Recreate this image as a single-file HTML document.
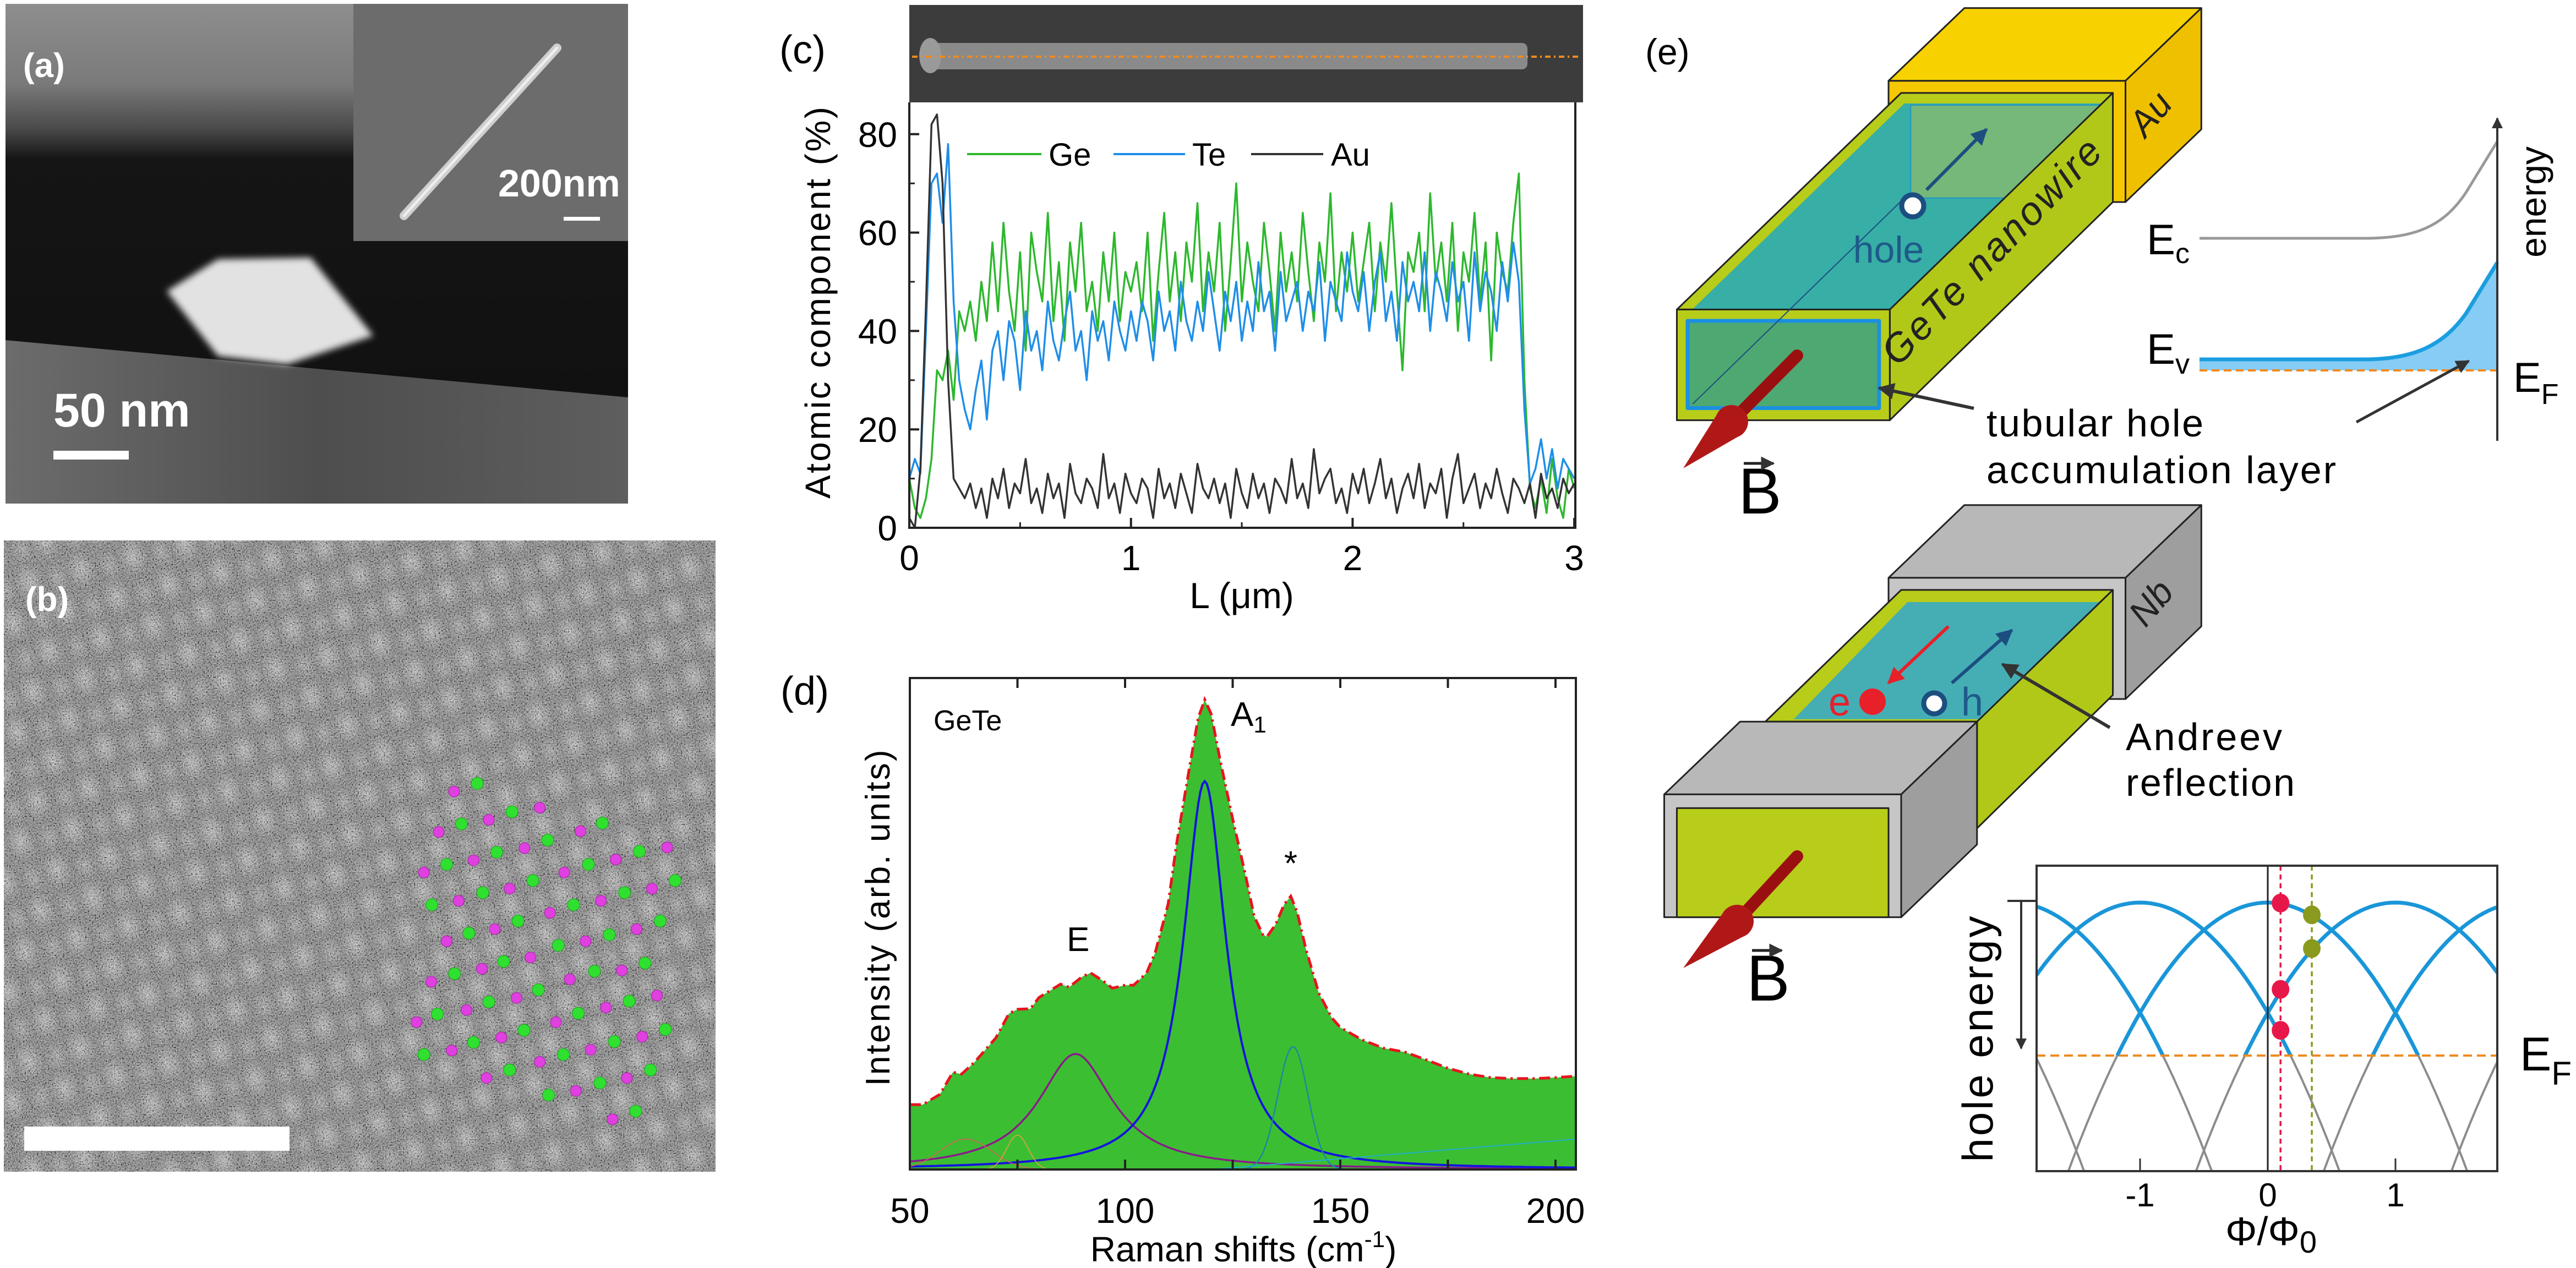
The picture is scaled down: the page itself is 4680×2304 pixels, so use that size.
<!DOCTYPE html>
<html><head><meta charset="utf-8">
<style>body{margin:0;background:#fff}svg{display:block}text{font-family:"Liberation Sans",Arial,sans-serif}</style>
</head><body>
<svg id="fig" xmlns="http://www.w3.org/2000/svg" width="4680" height="2304" viewBox="0 0 4680 2304">
<defs>
  <linearGradient id="aTop" x1="0" y1="7" x2="0" y2="915" gradientUnits="userSpaceOnUse">
    <stop offset="0" stop-color="#8e8e8e"/><stop offset="0.16" stop-color="#7a7a7a"/>
    <stop offset="0.25" stop-color="#4a4a4a"/><stop offset="0.31" stop-color="#151515"/><stop offset="1" stop-color="#0f0f0f"/>
  </linearGradient>
  <linearGradient id="aBot" x1="10" y1="0" x2="1141" y2="0" gradientUnits="userSpaceOnUse">
    <stop offset="0" stop-color="#6c6c6c"/><stop offset="0.5" stop-color="#4e4e4e"/><stop offset="1" stop-color="#5e5e5e"/>
  </linearGradient>
  <radialGradient id="blob"><stop offset="0" stop-color="#b4b4b4"/><stop offset="1" stop-color="#b4b4b4" stop-opacity="0"/></radialGradient>
  <radialGradient id="blob2"><stop offset="0" stop-color="#9a9a9a"/><stop offset="1" stop-color="#9a9a9a" stop-opacity="0"/></radialGradient>
  <pattern id="lat" width="1" height="1" patternUnits="userSpaceOnUse" patternTransform="matrix(65 51 -29 74 0 0)">
    <rect width="1" height="1" fill="#666"/>
    <circle cx="0.5" cy="0.5" r="0.38" fill="url(#blob)"/>
    <circle cx="0.07" cy="0" r="0.3" fill="url(#blob2)"/>
    <circle cx="0.07" cy="1" r="0.3" fill="url(#blob2)"/>
    <circle cx="1.07" cy="0" r="0.3" fill="url(#blob2)"/>
    <circle cx="1.07" cy="1" r="0.3" fill="url(#blob2)"/>
  </pattern>
  <filter id="noise2" x="0" y="0" width="100%" height="100%">
    <feTurbulence type="fractalNoise" baseFrequency="0.4" numOctaves="2" seed="7" result="t"/>
    <feColorMatrix in="t" type="matrix" values="1.2 1.2 1.2 0 -1.3  1.2 1.2 1.2 0 -1.3  1.2 1.2 1.2 0 -1.3  0 0 0 0 0.5"/>
  </filter>
  <filter id="soft" x="-20%" y="-20%" width="140%" height="140%"><feGaussianBlur stdDeviation="6"/></filter>
  <clipPath id="clipC"><rect x="1652" y="186" width="1210" height="773"/></clipPath>
  <clipPath id="clipD"><rect x="1653" y="1232" width="1210" height="893"/></clipPath>
  <clipPath id="clipE"><rect x="3700" y="1573" width="837" height="555"/></clipPath>
  <marker id="ah" viewBox="0 0 10 10" refX="9" refY="5" markerWidth="5" markerHeight="5" orient="auto"><path d="M0,0 L10,5 L0,10 z" fill="#333"/></marker>
  <marker id="ahB" viewBox="0 0 10 10" refX="9" refY="5" markerWidth="5" markerHeight="5" orient="auto"><path d="M0,0 L10,5 L0,10 z" fill="#1c4e80"/></marker>
  <marker id="ahR" viewBox="0 0 10 10" refX="9" refY="5" markerWidth="5" markerHeight="5" orient="auto"><path d="M0,0 L10,5 L0,10 z" fill="#e8202a"/></marker>
</defs>
<rect width="4680" height="2304" fill="#fff"/>

<!-- Panel a -->
<g>
  <rect x="10" y="7" width="1131" height="908" fill="url(#aTop)"/>
  <polygon points="10,618 1141,722 1141,915 10,915" fill="url(#aBot)"/>
  <polygon points="303,529 396,471 564,468 678,610 522,662 396,647" fill="#e2e2e2" filter="url(#soft)"/>
  <rect x="642" y="7" width="499" height="431" fill="#6c6c6c"/>
  <line x1="734" y1="392" x2="1012" y2="87" stroke="#cfcfcf" stroke-width="16" stroke-linecap="round"/>
  <line x1="734" y1="392" x2="1012" y2="87" stroke="#eeeeee" stroke-width="5" stroke-linecap="round"/>
  <text x="42" y="140" font-size="62" font-weight="bold" fill="#fff">(a)</text>
  <text x="905" y="357" font-size="70" font-weight="bold" fill="#fff">200nm</text>
  <rect x="1024" y="394" width="66" height="7" fill="#fff"/>
  <text x="97" y="775" font-size="86" font-weight="bold" fill="#fff">50 nm</text>
  <rect x="97" y="819" width="137" height="16" fill="#fff"/>
</g>

<!-- Panel b -->
<g>
  <rect x="7" y="982" width="1293" height="1147" fill="url(#lat)"/>
  <rect x="7" y="982" width="1293" height="1147" filter="url(#noise2)"/>
  <g id="atomDots"></g>
  <text x="46" y="1110" font-size="62" font-weight="bold" fill="#fff">(b)</text>
  <rect x="44" y="2047" width="482" height="44" fill="#fff"/>
</g>

<!-- Panel c -->
<g>
  <text x="1416" y="115" font-size="72">(c)</text>
  <rect x="1652" y="9" width="1224" height="177" fill="#3c3c3c"/>
  <rect x="1690" y="78" width="1085" height="48" rx="10" fill="#8a8a8a"/>
  <ellipse cx="1690" cy="101" rx="20" ry="32" fill="#9a9a9a"/>
  <line x1="1657" y1="103" x2="2870" y2="103" stroke="#f08a20" stroke-width="4" stroke-dasharray="10,6,3,6"/>
  <g id="chartC"></g>
</g>

<!-- Panel d -->
<g>
  <text x="1418" y="1280" font-size="72">(d)</text>
  <g id="chartD"></g>
  <text x="2259" y="2292" font-size="64" text-anchor="middle">Raman shifts (cm<tspan font-size="42" dy="-26">-1</tspan><tspan dy="26">)</tspan></text>
  <text x="2236" y="1319" font-size="62">A<tspan font-size="42" dy="12">1</tspan></text>
</g>

<!-- Panel e schematic -->
<g>
  <text x="2989" y="117" font-size="66">(e)</text>
  <g transform="translate(2880,0) scale(1.148,1.4684)" stroke="#222" stroke-linejoin="round">
    <polygon points="480,100 600,10 975,10 855,100" fill="#f7d200" vector-effect="non-scaling-stroke" stroke-width="3"/>
    <polygon points="480,100 855,100 855,250 480,250" fill="#f5c800" vector-effect="non-scaling-stroke" stroke-width="3"/>
    <polygon points="855,100 975,10 975,160 855,250" fill="#efc000" vector-effect="non-scaling-stroke" stroke-width="3"/>
    <polygon points="145,383 500,115 835,115 482,383" fill="#b8cc1a" vector-effect="non-scaling-stroke" stroke-width="3"/>
    <polygon points="160,390 505,128 820,128 475,390" fill="#20a8c0" opacity="0.85" stroke="none"/>
    <polygon points="515,130 820,130 820,245 515,245" fill="#8cbc6a" opacity="0.75" stroke="#1a8ad0" vector-effect="non-scaling-stroke" stroke-width="2"/>
    <polygon points="482,383 835,115 835,250 482,520" fill="#b2c818" vector-effect="non-scaling-stroke" stroke-width="3"/>
    <rect x="145" y="383" width="337" height="137" fill="#b8cc1a" vector-effect="non-scaling-stroke" stroke-width="3"/>
    <rect x="162" y="397" width="303" height="108" fill="#4ea872" stroke="#1a90e0" vector-effect="non-scaling-stroke" stroke-width="7"/>
    <line x1="170" y1="500" x2="505" y2="245" stroke="#1c4e80" vector-effect="non-scaling-stroke" stroke-width="2"/>
    <polygon points="480,715 600,625 975,625 855,715" fill="#b8b8b8" vector-effect="non-scaling-stroke" stroke-width="3"/>
    <polygon points="480,715 855,715 855,865 480,865" fill="#c6c6c6" vector-effect="non-scaling-stroke" stroke-width="3"/>
    <polygon points="855,715 975,625 975,775 855,865" fill="#9e9e9e" vector-effect="non-scaling-stroke" stroke-width="3"/>
    <polygon points="285,893 500,730 835,730 620,893" fill="#b8cc1a" vector-effect="non-scaling-stroke" stroke-width="3"/>
    <polygon points="330,890 510,745 820,745 640,890" fill="#30a8d0" opacity="0.85" stroke="none"/>
    <polygon points="620,893 835,730 835,860 620,1025" fill="#b2c818" vector-effect="non-scaling-stroke" stroke-width="3"/>
    <polygon points="125,983 245,893 620,893 500,983" fill="#b8b8b8" vector-effect="non-scaling-stroke" stroke-width="3"/>
    <polygon points="500,983 620,893 620,1045 500,1135" fill="#9e9e9e" vector-effect="non-scaling-stroke" stroke-width="3"/>
    <rect x="125" y="983" width="375" height="152" fill="#c6c6c6" vector-effect="non-scaling-stroke" stroke-width="3"/>
    <rect x="145" y="1000" width="335" height="135" fill="#b8cc1a" vector-effect="non-scaling-stroke" stroke-width="3"/>
  </g>
  <line x1="3146" y1="766" x2="3265" y2="646" stroke="#9a1010" stroke-width="22" stroke-linecap="round"/>
  <polygon points="3058,851 3167,788 3125,744" fill="#b01818"/>
  <circle cx="3146" cy="766" r="30" fill="#b01818"/>
  <text x="3158" y="933" font-size="118">B</text>
  <line x1="3168" y1="842" x2="3222" y2="842" stroke="#222" stroke-width="5" marker-end="url(#ah)"/>
  <line x1="3156" y1="1674" x2="3265" y2="1556" stroke="#9a1010" stroke-width="22" stroke-linecap="round"/>
  <polygon points="3058,1759 3176,1697 3136,1651" fill="#b01818"/>
  <circle cx="3156" cy="1674" r="30" fill="#b01818"/>
  <text x="3173" y="1818" font-size="118">B</text>
  <line x1="3183" y1="1727" x2="3237" y2="1727" stroke="#222" stroke-width="5" marker-end="url(#ah)"/>
  <line x1="3500" y1="345" x2="3609" y2="235" stroke="#1c4e80" stroke-width="6" marker-end="url(#ahB)"/>
  <circle cx="3475" cy="374" r="20" fill="#fff" stroke="#1c4e80" stroke-width="9"/>
  <text x="3431" y="477" font-size="68" text-anchor="middle" fill="#1e5a8a">hole</text>
  <text transform="translate(3448,668) rotate(-46)" font-size="72" font-style="italic" fill="#222" textLength="540">GeTe nanowire</text>
  <text transform="translate(3898,252) rotate(-50)" font-size="66" font-style="italic" fill="#222">Au</text>
  <text transform="translate(3898,1142) rotate(-50)" font-size="66" font-style="italic" fill="#222">Nb</text>
  <line x1="3586" y1="742" x2="3414" y2="705" stroke="#333" stroke-width="6" marker-end="url(#ah)"/>
  <text x="3609" y="793" font-size="70" textLength="394">tubular hole</text>
  <text x="3609" y="878" font-size="70" textLength="635">accumulation layer</text>
  <line x1="3540" y1="1138" x2="3431" y2="1241" stroke="#e8202a" stroke-width="6" marker-end="url(#ahR)"/>
  <line x1="3546" y1="1241" x2="3655" y2="1145" stroke="#1c4e80" stroke-width="6" marker-end="url(#ahB)"/>
  <circle cx="3402" cy="1275" r="24" fill="#e8202a"/>
  <text x="3322" y="1300" font-size="72" fill="#e8202a">e</text>
  <circle cx="3514" cy="1278" r="19" fill="#fff" stroke="#1c4e80" stroke-width="9"/>
  <text x="3563" y="1300" font-size="72" fill="#1e5a8a">h</text>
  <line x1="3833" y1="1322" x2="3638" y2="1207" stroke="#333" stroke-width="6" marker-end="url(#ah)"/>
  <text x="3862" y="1363" font-size="70" textLength="284">Andreev</text>
  <text x="3862" y="1446" font-size="70" textLength="307">reflection</text>
  <g>
    <path d="M3996,653 L4296,653 C4390,653 4440,625 4480,570 L4537,477 L4537,673 L3996,673 Z" fill="#86ccf4"/>
    <path d="M3996,653 L4296,653 C4390,653 4440,625 4480,570 L4537,477" fill="none" stroke="#1a9ee0" stroke-width="7"/>
    <path d="M3996,433 L4296,433 C4390,433 4440,410 4480,350 L4537,257" fill="none" stroke="#999" stroke-width="5"/>
    <line x1="3996" y1="673" x2="4537" y2="673" stroke="#f08a20" stroke-width="4" stroke-dasharray="14,8"/>
    <line x1="4537" y1="801" x2="4537" y2="215" stroke="#333" stroke-width="4" marker-end="url(#ah)"/>
    <text transform="translate(4625,367) rotate(-90)" font-size="66" text-anchor="middle">energy</text>
    <text x="3900" y="462" font-size="78">E<tspan font-size="52" dy="16">c</tspan></text>
    <text x="3900" y="661" font-size="78">E<tspan font-size="52" dy="18">v</tspan></text>
    <text x="4566" y="712" font-size="76">E<tspan font-size="52" dy="22">F</tspan></text>
    <line x1="4281" y1="767" x2="4485" y2="656" stroke="#333" stroke-width="5" marker-end="url(#ah)"/>
  </g>
  <g id="chartE"></g>
  <text x="4126" y="2262" font-size="72" text-anchor="middle" font-family="'Liberation Serif', serif">Φ/Φ<tspan font-size="56" dy="14" font-family="'Liberation Sans', sans-serif">0</tspan></text>
  <text x="4578" y="1945" font-size="86">E<tspan font-size="60" dy="26">F</tspan></text>
</g>

<script>
const NS = 'http://www.w3.org/2000/svg';
function mk(parent, tag, attrs, txt) {
  const e = document.createElementNS(NS, tag);
  for (const k in attrs) e.setAttribute(k, attrs[k]);
  if (txt !== undefined) e.textContent = txt;
  parent.appendChild(e);
  return e;
}

/* ---------- Panel b decorative atom markers ---------- */
const magentaDots = [[980,978],[1165,998],[947,1028],[1055,1013],[1253,1027],[1132,1048],[1022,1063],[915,1078],[1329,1062],[1440,1047],[1218,1078],[1100,1098],[990,1113],[1407,1098],[1297,1113],[1187,1128],[1068,1148],[964,1163],[1374,1148],[1264,1163],[1145,1183],[1040,1197],[931,1213],[1342,1199],[1230,1210],[1115,1233],[1007,1248],[899,1263],[1418,1230],[1308,1245],[1200,1263],[1082,1282],[975,1298],[1386,1281],[1275,1297],[1165,1312],[1050,1332],[1353,1332],[1243,1348],[1322,1383]];
const greenDots = [[1030,968],[1105,1003],[996,1018],[1182,1038],[1300,1017],[1072,1053],[964,1068],[1270,1068],[1380,1052],[1150,1088],[1042,1103],[932,1118],[1238,1118],[1348,1103],[1457,1088],[1118,1138],[1012,1153],[1205,1168],[1315,1155],[1425,1138],[1087,1188],[981,1203],[1283,1200],[1392,1190],[1162,1223],[1055,1238],[944,1253],[1248,1252],[1358,1237],[1131,1273],[1022,1288],[915,1303],[1216,1303],[1326,1287],[1436,1272],[1100,1322],[1404,1322],[1184,1353],[1295,1338],[1372,1373]];
const dotsG = document.getElementById('atomDots');
magentaDots.forEach(p => {
  const c = mk(dotsG, 'circle', {cx: p[0]/1.188, cy: p[1]/0.68, r: 10, fill: '#e040e0', stroke: '#a020a0', 'stroke-width': 1});
  
  
});
greenDots.forEach(p => {
  const c = mk(dotsG, 'circle', {cx: p[0]/1.188, cy: p[1]/0.68, r: 11, fill: '#30e030', stroke: '#18a018', 'stroke-width': 1});
  
  
});

/* ---------- Panel c: EDX line scan ---------- */
const lStep = 0.025;
const geValues = [10,4,2,6,14,32,30,36,26,44,40,46,38,
 50,42,58,44,62,48,40,56,36,60,52,46,64,42,54,38,58,48,62,44,50,40,56,46,60,42,52,48,
 54,44,60,38,52,64,46,56,42,58,50,66,44,56,48,62,40,54,70,46,58,50,44,62,52,40,60,48,56,46,64,52,42,58,50,68,44,56,48,60,
 46,54,62,44,58,50,66,48,32,56,52,60,44,68,50,58,46,62,40,56,50,64,46,58,34,60,52,48,62,72,
 30,8,4,10,3,14,6,2,12,8];
const teValues = [10,14,11,40,70,72,62,78,46,30,24,20,28,
 34,22,36,40,30,42,38,28,44,36,40,32,46,38,34,42,48,36,40,30,44,38,42,34,46,40,36,44,
 38,46,42,34,48,40,44,36,50,42,38,46,40,52,44,36,48,42,50,38,46,40,54,44,48,36,52,42,46,50,40,48,44,54,38,50,46,42,56,48,
 44,52,40,50,56,42,48,38,54,46,50,44,56,40,52,48,42,54,46,50,38,56,44,52,48,40,54,46,58,50,
 24,9,12,18,10,16,8,14,12,10];
const auValues = [2,0,12,45,82,84,70,30,10,8,6,9,4,
 8,2,10,6,12,4,9,7,14,5,8,3,11,6,9,2,13,7,5,10,8,4,15,6,9,3,11,7,
 5,10,8,2,12,6,9,4,11,7,3,13,8,6,10,5,9,2,12,7,4,11,6,9,3,10,8,5,14,6,9,4,16,7,10,12,5,8,3,11,
 7,12,5,9,14,6,10,3,8,11,6,13,4,9,7,12,2,10,15,5,8,11,4,9,6,12,7,3,10,8,
 5,9,2,11,6,8,4,10,7,9];
const cYTicks = [0, 20, 40, 60, 80];
const cYMinor = [10, 30, 50, 70];
const cXTicks = [0, 1, 2, 3];
const cXMinor = [0.5, 1.5, 2.5];
const cSeriesNames = ['Ge', 'Te', 'Au'];

function cx(v) { return 1652 + v * 402.7; }
function cy(v) { return 959 - v * 8.94; }
const gC = document.getElementById('chartC');
const cColors = ['#2db82d', '#1e8ee8', '#333333'];
const cSeries = [geValues, teValues, auValues];
const cSeriesG = mk(gC, 'g', {'clip-path': 'url(#clipC)'});
cSeries.forEach((vals, si) => {
  const pts = vals.map((v, i) => cx(i * lStep).toFixed(1) + ',' + cy(v).toFixed(1)).join(' ');
  const pl = mk(cSeriesG, 'polyline', {points: pts, fill: 'none', stroke: cColors[si], 'stroke-width': 3.5, 'stroke-linejoin': 'round'});
  
  
});
const cFrame = mk(gC, 'path', {d: 'M1652,186 L1652,959 L2862,959 L2862,186', fill: 'none', stroke: '#222', 'stroke-width': 4});


cYTicks.forEach(v => {
  const t = mk(gC, 'line', {x1: 1652, x2: 1670, y1: cy(v), y2: cy(v), stroke: '#222', 'stroke-width': 4});
  
  
  const l = mk(gC, 'text', {x: 1630, y: cy(v) + 23, 'font-size': 64, 'text-anchor': 'end'}, String(v));
  
  
});
cYMinor.forEach(v => {
  const t = mk(gC, 'line', {x1: 1652, x2: 1662, y1: cy(v), y2: cy(v), stroke: '#222', 'stroke-width': 3});
  
  
});
cXTicks.forEach(v => {
  const t = mk(gC, 'line', {x1: cx(v), x2: cx(v), y1: 959, y2: 941, stroke: '#222', 'stroke-width': 4});
  
  
  const l = mk(gC, 'text', {x: cx(v), y: 1036, 'font-size': 64, 'text-anchor': 'middle'}, String(v));
  
  
});
cXMinor.forEach(v => {
  const t = mk(gC, 'line', {x1: cx(v), x2: cx(v), y1: 959, y2: 949, stroke: '#222', 'stroke-width': 3});
  
  
});
const cXT = mk(gC, 'text', {x: 2256, y: 1105, 'font-size': 66, 'text-anchor': 'middle'}, 'L (\u03bcm)');


const cYT = mk(gC, 'text', {transform: 'translate(1508,550) rotate(-90)', 'font-size': 64, 'text-anchor': 'middle', textLength: 712}, 'Atomic component (%)');


const legX = [[1757, 1892, 1905], [2023, 2153, 2166], [2273, 2404, 2418]];
cSeriesNames.forEach((n, i) => {
  const ln = mk(gC, 'line', {x1: legX[i][0], x2: legX[i][1], y1: 280, y2: 280, stroke: cColors[i], 'stroke-width': 4});
  
  
  const tx = mk(gC, 'text', {x: legX[i][2], y: 301, 'font-size': 58}, n);
  
  
});

/* ---------- Panel d: Raman spectrum ---------- */
const ramanShift = [50,53,57,60,62,65,70,73,75,78,80,85,87,90,92,95,97,100,102,105,107,110,112,115,117,118.5,120,122,125,128,130,132,133,135,137,138.5,140,142,145,148,150,155,160,165,170,175,180,185,190,195,200,205];
const ramanIntensity = [0.132,0.132,0.153,0.198,0.194,0.218,0.268,0.317,0.326,0.327,0.350,0.377,0.371,0.392,0.400,0.383,0.369,0.375,0.375,0.400,0.441,0.540,0.664,0.820,0.919,0.956,0.927,0.837,0.713,0.598,0.515,0.478,0.474,0.499,0.540,0.556,0.523,0.449,0.359,0.309,0.289,0.264,0.247,0.239,0.223,0.206,0.194,0.187,0.185,0.185,0.187,0.190];
const peakNames = ['E', 'A1', 'star', 'low1', 'low2'];
const peakCenter = [88.5, 118.5, 139, 63, 75];
const peakAmp = [0.235, 0.790, 0.250, 0.062, 0.070];
const peakWidth = [10.5, 6, 3.5, 6, 2.5];
const peakShape = ['L', 'L', 'G', 'G', 'G'];
const bgShift = [120, 205];
const bgLevel = [0, 0.062];
const dXTicks = [50, 100, 150, 200];
const dXMinor = [75, 125, 175];

function dx(v) { return 1653 + (v - 50) * 7.82; }
function dy(v) { return 2125 - v * 893; }
const gD = document.getElementById('chartD');
const dPlot = mk(gD, 'g', {'clip-path': 'url(#clipD)'});
let fillD = 'M' + dx(ramanShift[0]) + ',' + dy(0);
ramanShift.forEach((s, i) => { fillD += ' L' + dx(s).toFixed(1) + ',' + dy(ramanIntensity[i]).toFixed(1); });
fillD += ' L' + dx(ramanShift[ramanShift.length - 1]) + ',' + dy(0) + ' Z';
const area = mk(dPlot, 'path', {d: fillD, fill: '#3cbe32'});


const pColors = ['#8a1a8a', '#1414e0', '#1a8aa0', '#e05a5a', '#f0a040'];
const pWidths = [3.5, 4, 2.5, 1.5, 1.5];
peakCenter.forEach((c, k) => {
  let d = '';
  for (let s = 50; s <= 205; s += 0.5) {
    const u = (s - c) / peakWidth[k];
    const val = peakShape[k] === 'L' ? peakAmp[k] / (1 + u * u) : peakAmp[k] * Math.exp(-0.5 * u * u);
    d += (d ? ' L' : 'M') + dx(s).toFixed(1) + ',' + dy(val).toFixed(1);
  }
  const p = mk(dPlot, 'path', {d: d, fill: 'none', stroke: pColors[k], 'stroke-width': pWidths[k]});
  
  
});
const bgl = mk(dPlot, 'line', {x1: dx(bgShift[0]), y1: dy(bgLevel[0]), x2: dx(bgShift[1]), y2: dy(bgLevel[1]), stroke: '#20b0c8', 'stroke-width': 2});


const env = mk(dPlot, 'polyline', {points: ramanShift.map((s, i) => dx(s).toFixed(1) + ',' + dy(ramanIntensity[i]).toFixed(1)).join(' '), fill: 'none', stroke: '#e8141e', 'stroke-width': 5, 'stroke-dasharray': '20,8,4,8'});


const dFrame = mk(gD, 'rect', {x: 1653, y: 1232, width: 1210, height: 893, fill: 'none', stroke: '#222', 'stroke-width': 4});


dXTicks.concat(dXMinor).forEach(v => {
  const t1 = mk(gD, 'line', {x1: dx(v), x2: dx(v), y1: 2125, y2: 2107, stroke: '#222', 'stroke-width': 4});
  
  
  const t2 = mk(gD, 'line', {x1: dx(v), x2: dx(v), y1: 1232, y2: 1250, stroke: '#222', 'stroke-width': 4});
  
  
});
dXTicks.forEach(v => {
  const l = mk(gD, 'text', {x: dx(v), y: 2222, 'font-size': 64, 'text-anchor': 'middle'}, String(v));
  
  
});
const dYT = mk(gD, 'text', {transform: 'translate(1616,1668) rotate(-90)', 'font-size': 62, 'text-anchor': 'middle', textLength: 611}, 'Intensity (arb. units)');


const gete = mk(gD, 'text', {x: 1696, y: 1327, 'font-size': 52}, 'GeTe');


const eLab = mk(gD, 'text', {x: 1938, y: 1728, 'font-size': 62}, 'E');


const sLab = mk(gD, 'text', {x: 2345, y: 1590, 'font-size': 62, 'text-anchor': 'middle'}, '*');



/* ---------- Panel e: hole energy vs flux ---------- */
const bandCenters = [-3, -2, -1, 0, 1, 2, 3];
const bandPeak = [1, 1, 1, 1, 1, 1, 1];
const bandCurv = [0.72, 0.72, 0.72, 0.72, 0.72, 0.72, 0.72];
const pinkPhi = [0.1];
const pinkE = [0.997, 0.433, 0.165];
const olivePhi = [0.345];
const oliveE = [0.92, 0.70];
const eXTicks = [-1, 0, 1];

function ex(v) { return 4120 + v * 232; }
function ey(v) { return 1918 - v * 278; }
const gE = document.getElementById('chartE');
const ePlot = mk(gE, 'g', {'clip-path': 'url(#clipE)'});
bandCenters.forEach((c, k) => {
  const root = Math.sqrt(bandPeak[k] / bandCurv[k]);
  function seg(a, b) {
    let d = '';
    const n = 60;
    for (let i = 0; i <= n; i++) {
      const p = a + (b - a) * i / n;
      const E = bandPeak[k] - bandCurv[k] * (p - c) * (p - c);
      d += (i ? ' L' : 'M') + ex(p).toFixed(1) + ',' + ey(E).toFixed(1);
    }
    return d;
  }
  const g1 = mk(ePlot, 'path', {d: seg(c - 1.7, c - root), fill: 'none', stroke: '#8c8c8c', 'stroke-width': 4});
  
  
  const g2 = mk(ePlot, 'path', {d: seg(c + root, c + 1.7), fill: 'none', stroke: '#8c8c8c', 'stroke-width': 4});
  
  
  const b = mk(ePlot, 'path', {d: seg(c - root, c + root), fill: 'none', stroke: '#1a96d8', 'stroke-width': 7});
  
  
});
const efl = mk(ePlot, 'line', {x1: 3700, x2: 4537, y1: ey(0), y2: ey(0), stroke: '#f08a20', 'stroke-width': 4, 'stroke-dasharray': '16,9'});


const zl = mk(ePlot, 'line', {x1: ex(0), x2: ex(0), y1: 1573, y2: 2128, stroke: '#222', 'stroke-width': 3});


const pl1 = mk(ePlot, 'line', {x1: ex(pinkPhi[0]), x2: ex(pinkPhi[0]), y1: 1573, y2: 2128, stroke: '#e8174a', 'stroke-width': 3.5, 'stroke-dasharray': '9,7'});


const pl2 = mk(ePlot, 'line', {x1: ex(olivePhi[0]), x2: ex(olivePhi[0]), y1: 1573, y2: 2128, stroke: '#8a9a1e', 'stroke-width': 3.5, 'stroke-dasharray': '9,7'});


pinkE.forEach(E => {
  const d = mk(ePlot, 'ellipse', {cx: ex(pinkPhi[0]), cy: ey(E), rx: 16, ry: 17, fill: '#e8174a'});
  
  
});
oliveE.forEach(E => {
  const d = mk(ePlot, 'ellipse', {cx: ex(olivePhi[0]), cy: ey(E), rx: 16, ry: 17, fill: '#8a9a1e'});
  
  
});
const eFrame = mk(gE, 'rect', {x: 3700, y: 1573, width: 837, height: 555, fill: 'none', stroke: '#333', 'stroke-width': 4});


eXTicks.forEach(v => {
  if (v !== 0) {
    const t = mk(gE, 'line', {x1: ex(v), x2: ex(v), y1: 2128, y2: 2105, stroke: '#333', 'stroke-width': 3});
    
    
  }
  const l = mk(gE, 'text', {x: ex(v), y: 2192, 'font-size': 60, 'text-anchor': 'middle'}, String(v));
  
  
});
const eYT = mk(gE, 'text', {transform: 'translate(3620,1888) rotate(-90)', 'font-size': 78, 'text-anchor': 'middle', textLength: 447}, 'hole energy');


const barT = mk(gE, 'line', {x1: 3647, x2: 3700, y1: 1637, y2: 1637, stroke: '#333', 'stroke-width': 4});


const arr = mk(gE, 'line', {x1: 3672, x2: 3672, y1: 1637, y2: 1905, stroke: '#333', 'stroke-width': 4, 'marker-end': 'url(#ah)'});


</script>
</svg>
</body></html>
